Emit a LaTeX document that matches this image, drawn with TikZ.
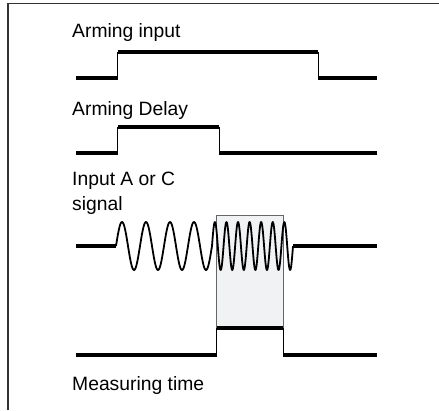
\documentclass[tikz,border=0pt]{standalone}
\usepackage{fontspec}
\setmainfont{Liberation Sans}
\definecolor{windowfill}{RGB}{241,242,244}
\tikzset{
  hilo/.style={line width=4pt},                 % logic level, thick
  flank/.style={line width=1pt},                % rising / falling edge
  wave/.style={line width=1.8pt, line join=round},
  sigtext/.style={anchor=base west, inner sep=0pt,
    font=\fontsize{19.3}{25}\selectfont},
  measbox/.style={draw=black!60, line width=0.9pt, fill=windowfill},
  outline/.style={line width=1.3pt, draw=black!80},
}
\begin{document}
\begin{tikzpicture}[x=1pt, y=-1pt]
  \useasboundingbox (0,0) rectangle (439,410);

  % ----- frame --------------------------------------------------------------
  \draw[outline] (8,410) -- (8,3.5) -- (439,3.5);

  % ----- labels -------------------------------------------------------------
  \node[sigtext] (armin) at (72,37.3) {Arming input};
  \node[sigtext] (armdl) at (72,115)  {Arming Delay};
  \node[sigtext] (inpac) at (72,185)  {Input A or C};
  \node[sigtext] (inpsg) at (72,210)  {signal};
  \node[sigtext] (meast) at (72,390)  {Measuring time};

  % ----- measuring window (behind the signal) -------------------------------
  \draw[measbox] (216.7,215.7) rectangle (283,328);

  % ----- arming input -------------------------------------------------------
  \draw[hilo]  (76,78)    -- (117.5,78);
  \draw[flank] (117.5,78) -- (117.5,52);
  \draw[hilo]  (117.5,52) -- (318,52);
  \draw[flank] (318,52)   -- (318,78);
  \draw[hilo]  (318,78)   -- (377,78);

  % ----- arming delay -------------------------------------------------------
  \draw[hilo]  (76,153)   -- (117.5,153);
  \draw[flank] (117.5,153) -- (117.5,127);
  \draw[hilo]  (117.5,127) -- (219,127);
  \draw[flank] (219,127)  -- (219,153);
  \draw[hilo]  (219,153)  -- (377,153);

  % ----- input signal: slow burst, then fast burst --------------------------
  \draw[hilo] (76,246) -- (116,246);
  \draw[wave] (116,246)
    -- plot[domain=116:212, samples=160] (\x, {246-24*sin(15*(\x-116))})
    -- plot[domain=212:293, samples=240] (\x, {246-24*sin(31.11*(\x-212))});
  \draw[hilo] (293,246) -- (377,246);

  % ----- measuring time -----------------------------------------------------
  \draw[hilo]  (76,355)   -- (216.7,355);
  \draw[flank] (216.7,355) -- (216.7,328);
  \draw[hilo]  (216.7,328) -- (283,328);
  \draw[flank] (283,328)  -- (283,355);
  \draw[hilo]  (283,355)  -- (377,355);

\end{tikzpicture}
\end{document}
